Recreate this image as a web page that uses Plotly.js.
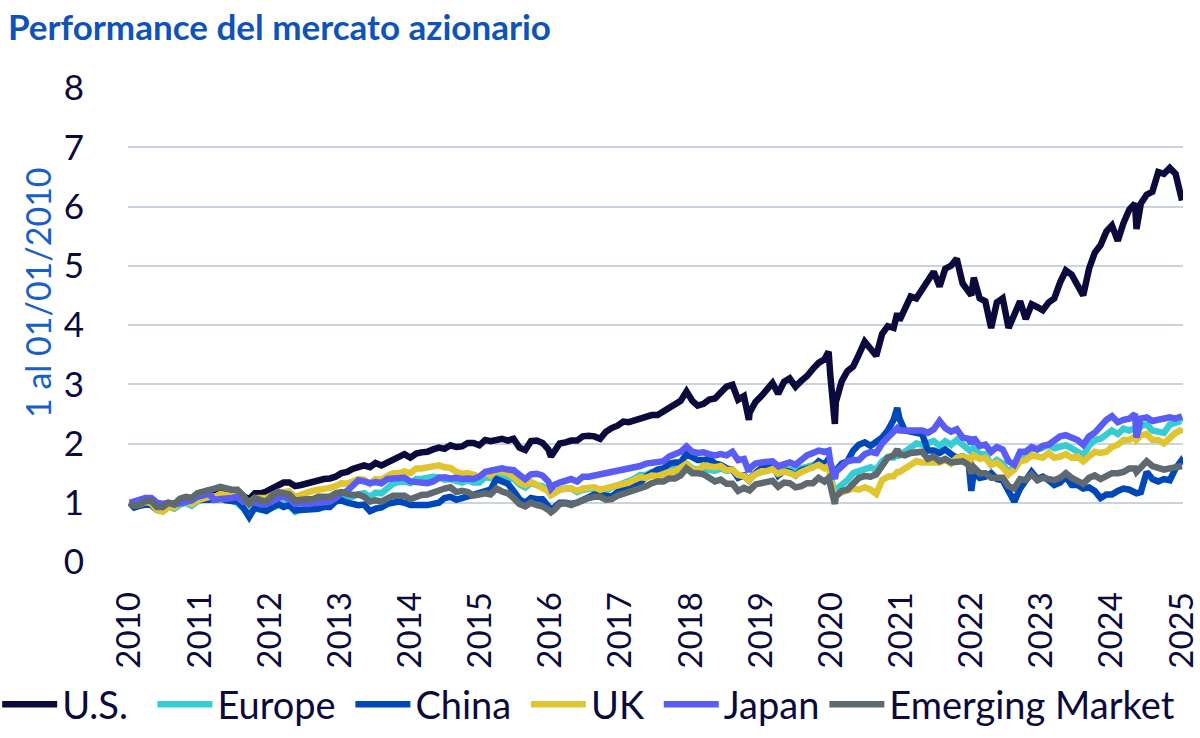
<!DOCTYPE html>
<html>
<head>
<meta charset="utf-8">
<script src="https://cdn.plot.ly/plotly-3.0.1.min.js"></script>
<style>
	body { margin: 0; background: #ffffff; }
	#chart { width: 1200px; height: 738px; }
</style>
</head>
<body>
<div id="chart"></div>
<script>
// month-end samples (day 28), plus a few dates where a sharp peak or trough sits
const dates = [
	"2010-01-04", "2010-01-28", "2010-02-28", "2010-03-28", "2010-04-28", "2010-05-28", "2010-06-28", "2010-07-28", "2010-08-28", "2010-09-28", "2010-10-28", "2010-11-28", "2010-12-28",
	"2011-01-28", "2011-02-28", "2011-03-28", "2011-04-28", "2011-05-28", "2011-06-28", "2011-07-28", "2011-08-28", "2011-09-28", "2011-10-28", "2011-11-28", "2011-12-28",
	"2012-01-28", "2012-02-28", "2012-03-28", "2012-04-28", "2012-05-28", "2012-06-28", "2012-07-28", "2012-08-28", "2012-09-28", "2012-10-28", "2012-11-28", "2012-12-28",
	"2013-01-28", "2013-02-28", "2013-03-28", "2013-04-28", "2013-05-28", "2013-06-28", "2013-07-28", "2013-08-28", "2013-09-28", "2013-10-28", "2013-11-28", "2013-12-28",
	"2014-01-28", "2014-02-28", "2014-03-28", "2014-04-28", "2014-05-28", "2014-06-28", "2014-07-28", "2014-08-28", "2014-09-28", "2014-10-28", "2014-11-28", "2014-12-28",
	"2015-01-28", "2015-02-28", "2015-03-28", "2015-04-28", "2015-05-28", "2015-06-28", "2015-07-28", "2015-08-28", "2015-09-28", "2015-10-28", "2015-11-28", "2015-12-28",
	"2016-01-28", "2016-02-11", "2016-02-28", "2016-03-28", "2016-04-28", "2016-05-28", "2016-06-28", "2016-07-28", "2016-08-28", "2016-09-28", "2016-10-28", "2016-11-28", "2016-12-28",
	"2017-01-28", "2017-02-28", "2017-03-28", "2017-04-28", "2017-05-28", "2017-06-28", "2017-07-28", "2017-08-28", "2017-09-28", "2017-10-28", "2017-11-28", "2017-12-28",
	"2018-01-28", "2018-02-28", "2018-03-28", "2018-04-28", "2018-05-28", "2018-06-28", "2018-07-28", "2018-08-28", "2018-09-28", "2018-10-28", "2018-11-28", "2018-12-24", "2018-12-28",
	"2019-01-28", "2019-02-28", "2019-03-28", "2019-04-28", "2019-05-28", "2019-06-28", "2019-07-28", "2019-08-28", "2019-09-28", "2019-10-28", "2019-11-28", "2019-12-28",
	"2020-01-28", "2020-02-19", "2020-02-28", "2020-03-23", "2020-03-28", "2020-04-28", "2020-05-28", "2020-06-28", "2020-07-28", "2020-08-28", "2020-09-28", "2020-10-28", "2020-11-28", "2020-12-28",
	"2021-01-28", "2021-02-16", "2021-02-28", "2021-03-28", "2021-04-28", "2021-05-28", "2021-06-28", "2021-07-28", "2021-08-28", "2021-09-28", "2021-10-28", "2021-11-28", "2021-12-28",
	"2022-01-28", "2022-02-28", "2022-03-15", "2022-03-28", "2022-04-28", "2022-05-28", "2022-06-28", "2022-07-28", "2022-08-28", "2022-09-28", "2022-10-28", "2022-11-28", "2022-12-28",
	"2023-01-28", "2023-02-28", "2023-03-28", "2023-04-28", "2023-05-28", "2023-06-28", "2023-07-28", "2023-08-28", "2023-09-28", "2023-10-28", "2023-11-28", "2023-12-28",
	"2024-01-28", "2024-02-28", "2024-03-28", "2024-04-28", "2024-05-28", "2024-06-28", "2024-07-28", "2024-08-05", "2024-08-28", "2024-09-28", "2024-10-28", "2024-11-28", "2024-12-28",
	"2025-01-28", "2025-02-28", "2025-03-28", "2025-04-03"
];

const usValues = [
	1.00, 0.97, 0.99, 1.05, 1.07, 0.98, 0.92, 0.98, 0.94, 1.03, 1.07, 1.07, 1.14,
	1.17, 1.21, 1.21, 1.24, 1.23, 1.21, 1.18, 1.11, 1.06, 1.16, 1.16, 1.19,
	1.25, 1.30, 1.34, 1.34, 1.28, 1.30, 1.33, 1.36, 1.39, 1.40, 1.41, 1.44,
	1.50, 1.52, 1.57, 1.59, 1.63, 1.60, 1.67, 1.63, 1.68, 1.74, 1.78, 1.82,
	1.76, 1.83, 1.85, 1.86, 1.90, 1.93, 1.91, 1.97, 1.94, 1.95, 2.01, 2.01,
	1.97, 2.06, 2.04, 2.06, 2.08, 2.05, 2.08, 1.93, 1.89, 2.04, 2.05, 2.01,
	1.90, 1.78, 1.88, 2.00, 2.02, 2.05, 2.05, 2.12, 2.13, 2.12, 2.08, 2.20, 2.26,
	2.30, 2.37, 2.36, 2.39, 2.42, 2.44, 2.48, 2.48, 2.54, 2.60, 2.68, 2.72,
	2.88, 2.72, 2.64, 2.67, 2.74, 2.76, 2.86, 2.96, 2.99, 2.74, 2.80, 2.40, 2.52,
	2.70, 2.80, 2.90, 3.02, 2.84, 3.04, 3.10, 2.96, 3.06, 3.14, 3.26, 3.36,
	3.42, 3.55, 3.15, 2.33, 2.70, 3.05, 3.22, 3.30, 3.50, 3.72, 3.60, 3.48, 3.85, 3.98,
	3.95, 4.20, 4.08, 4.25, 4.48, 4.45, 4.62, 4.75, 4.90, 4.65, 4.95, 5.00, 5.12,
	4.70, 4.55, 4.50, 4.80, 4.45, 4.40, 3.95, 4.38, 4.45, 3.95, 4.20, 4.40, 4.10,
	4.35, 4.30, 4.25, 4.38, 4.45, 4.72, 4.92, 4.85, 4.65, 4.50, 4.95, 5.22,
	5.35, 5.58, 5.68, 5.42, 5.72, 5.95, 6.05, 5.62, 6.05, 6.20, 6.25, 6.58, 6.55,
	6.65, 6.55, 6.15, 6.10
];

const europeValues = [
	1.00, 0.97, 0.97, 1.02, 0.98, 0.88, 0.86, 0.93, 0.90, 0.97, 1.00, 0.95, 1.02,
	1.06, 1.08, 1.05, 1.10, 1.06, 1.04, 1.00, 0.90, 0.82, 0.91, 0.88, 0.89,
	0.93, 0.97, 0.98, 0.95, 0.85, 0.90, 0.93, 0.97, 0.99, 1.01, 1.03, 1.06,
	1.10, 1.09, 1.10, 1.14, 1.16, 1.10, 1.17, 1.16, 1.24, 1.32, 1.35, 1.36,
	1.33, 1.40, 1.40, 1.42, 1.44, 1.43, 1.39, 1.40, 1.38, 1.34, 1.38, 1.34,
	1.34, 1.43, 1.42, 1.48, 1.45, 1.40, 1.41, 1.31, 1.26, 1.33, 1.30, 1.28,
	1.20, 1.13, 1.16, 1.22, 1.24, 1.24, 1.18, 1.22, 1.23, 1.24, 1.21, 1.20, 1.26,
	1.29, 1.31, 1.36, 1.41, 1.47, 1.47, 1.52, 1.52, 1.55, 1.56, 1.57, 1.59,
	1.66, 1.58, 1.56, 1.60, 1.55, 1.54, 1.58, 1.54, 1.55, 1.46, 1.46, 1.38, 1.40,
	1.48, 1.52, 1.54, 1.59, 1.50, 1.58, 1.56, 1.53, 1.58, 1.60, 1.62, 1.66,
	1.62, 1.70, 1.50, 1.08, 1.22, 1.30, 1.38, 1.50, 1.53, 1.58, 1.60, 1.55, 1.70, 1.77,
	1.76, 1.82, 1.80, 1.86, 1.94, 2.00, 1.98, 2.01, 2.04, 1.96, 2.04, 1.98, 2.06,
	1.98, 1.92, 1.86, 1.94, 1.82, 1.82, 1.64, 1.72, 1.66, 1.50, 1.62, 1.80, 1.82,
	1.92, 1.90, 1.93, 1.98, 1.92, 1.94, 1.97, 1.92, 1.86, 1.80, 1.96, 2.06,
	2.08, 2.14, 2.22, 2.16, 2.25, 2.22, 2.26, 2.16, 2.30, 2.32, 2.22, 2.20, 2.18,
	2.32, 2.36, 2.38, 2.36
];

const chinaValues = [
	1.00, 0.92, 0.95, 0.97, 0.96, 0.88, 0.86, 0.94, 0.95, 1.04, 1.08, 1.04, 1.05,
	1.04, 1.05, 1.06, 1.08, 1.04, 1.04, 1.02, 0.92, 0.76, 0.92, 0.88, 0.86,
	0.92, 0.98, 0.93, 0.96, 0.87, 0.88, 0.88, 0.88, 0.90, 0.93, 0.93, 1.02,
	1.04, 1.00, 0.98, 0.96, 0.97, 0.86, 0.90, 0.92, 0.98, 0.99, 1.02, 1.00,
	0.96, 0.96, 0.95, 0.96, 0.98, 1.00, 1.08, 1.10, 1.05, 1.08, 1.10, 1.14,
	1.15, 1.18, 1.22, 1.40, 1.36, 1.32, 1.20, 1.06, 1.00, 1.08, 1.06, 1.06,
	0.94, 0.90, 0.92, 1.00, 1.00, 0.98, 1.00, 1.04, 1.10, 1.14, 1.14, 1.12, 1.10,
	1.18, 1.22, 1.26, 1.28, 1.34, 1.44, 1.50, 1.56, 1.58, 1.66, 1.68, 1.68,
	1.82, 1.76, 1.72, 1.72, 1.74, 1.66, 1.64, 1.58, 1.56, 1.42, 1.46, 1.38, 1.40,
	1.50, 1.58, 1.60, 1.64, 1.46, 1.54, 1.52, 1.46, 1.55, 1.58, 1.60, 1.70,
	1.64, 1.74, 1.66, 1.42, 1.54, 1.66, 1.70, 1.88, 1.98, 2.02, 1.96, 2.04, 2.10, 2.22,
	2.40, 2.60, 2.42, 2.22, 2.20, 2.18, 2.16, 1.88, 1.88, 1.84, 1.90, 1.82, 1.76,
	1.78, 1.70, 1.20, 1.52, 1.42, 1.44, 1.50, 1.40, 1.38, 1.22, 1.02, 1.24, 1.36,
	1.52, 1.40, 1.44, 1.38, 1.30, 1.34, 1.44, 1.30, 1.30, 1.24, 1.26, 1.20,
	1.08, 1.14, 1.14, 1.20, 1.24, 1.22, 1.18, 1.16, 1.18, 1.52, 1.40, 1.36, 1.40,
	1.38, 1.58, 1.70, 1.66
];

const ukValues = [
	1.00, 0.96, 0.97, 1.02, 0.99, 0.88, 0.85, 0.93, 0.92, 0.99, 1.02, 0.98, 1.04,
	1.07, 1.10, 1.09, 1.15, 1.13, 1.11, 1.10, 1.02, 1.00, 1.08, 1.07, 1.08,
	1.13, 1.18, 1.18, 1.19, 1.10, 1.14, 1.17, 1.20, 1.22, 1.23, 1.25, 1.28,
	1.33, 1.32, 1.36, 1.40, 1.39, 1.32, 1.40, 1.39, 1.45, 1.50, 1.50, 1.53,
	1.50, 1.58, 1.58, 1.60, 1.62, 1.63, 1.60, 1.59, 1.52, 1.49, 1.50, 1.46,
	1.44, 1.52, 1.46, 1.54, 1.53, 1.50, 1.44, 1.34, 1.30, 1.35, 1.30, 1.25,
	1.19, 1.13, 1.16, 1.22, 1.24, 1.24, 1.20, 1.24, 1.25, 1.26, 1.22, 1.24, 1.28,
	1.30, 1.32, 1.34, 1.39, 1.43, 1.42, 1.46, 1.45, 1.50, 1.52, 1.53, 1.58,
	1.66, 1.56, 1.55, 1.63, 1.62, 1.60, 1.62, 1.55, 1.56, 1.47, 1.45, 1.38, 1.40,
	1.48, 1.53, 1.53, 1.57, 1.49, 1.53, 1.50, 1.46, 1.52, 1.56, 1.58, 1.64,
	1.58, 1.62, 1.44, 1.02, 1.14, 1.18, 1.20, 1.24, 1.22, 1.26, 1.22, 1.15, 1.38, 1.44,
	1.45, 1.52, 1.52, 1.58, 1.64, 1.70, 1.68, 1.68, 1.70, 1.68, 1.72, 1.66, 1.76,
	1.78, 1.76, 1.72, 1.80, 1.74, 1.76, 1.64, 1.68, 1.60, 1.48, 1.56, 1.70, 1.72,
	1.80, 1.78, 1.76, 1.84, 1.76, 1.78, 1.82, 1.76, 1.78, 1.70, 1.80, 1.86,
	1.84, 1.86, 1.94, 1.98, 2.06, 2.06, 2.12, 2.06, 2.14, 2.16, 2.06, 2.06, 2.00,
	2.10, 2.18, 2.22, 2.26
];

const japanValues = [
	1.00, 1.03, 1.05, 1.08, 1.08, 1.00, 0.98, 1.00, 0.97, 1.00, 1.02, 1.04, 1.10,
	1.12, 1.15, 1.05, 1.06, 1.05, 1.08, 1.10, 1.02, 1.00, 1.01, 0.97, 0.98,
	1.02, 1.08, 1.10, 1.06, 0.98, 1.00, 0.98, 0.99, 1.00, 0.99, 1.02, 1.08,
	1.16, 1.20, 1.30, 1.38, 1.36, 1.33, 1.35, 1.33, 1.40, 1.40, 1.42, 1.42,
	1.36, 1.35, 1.34, 1.33, 1.36, 1.42, 1.43, 1.41, 1.42, 1.40, 1.41, 1.40,
	1.44, 1.52, 1.54, 1.56, 1.58, 1.56, 1.55, 1.47, 1.40, 1.48, 1.49, 1.46,
	1.36, 1.24, 1.30, 1.34, 1.38, 1.40, 1.36, 1.44, 1.44, 1.46, 1.48, 1.48, 1.50,
	1.54, 1.56, 1.56, 1.58, 1.62, 1.66, 1.67, 1.67, 1.70, 1.78, 1.82, 1.86,
	1.95, 1.86, 1.84, 1.85, 1.82, 1.80, 1.82, 1.80, 1.86, 1.72, 1.74, 1.52, 1.58,
	1.66, 1.68, 1.68, 1.70, 1.62, 1.66, 1.68, 1.64, 1.72, 1.80, 1.84, 1.88,
	1.86, 1.88, 1.68, 1.40, 1.52, 1.60, 1.70, 1.72, 1.72, 1.82, 1.86, 1.84, 2.00, 2.10,
	2.18, 2.26, 2.22, 2.22, 2.20, 2.22, 2.22, 2.18, 2.24, 2.38, 2.26, 2.20, 2.24,
	2.10, 2.08, 2.00, 2.10, 1.96, 1.98, 1.86, 1.94, 1.90, 1.70, 1.64, 1.86, 1.86,
	1.94, 1.90, 1.96, 1.98, 2.04, 2.12, 2.14, 2.10, 2.06, 1.98, 2.12, 2.18,
	2.30, 2.40, 2.46, 2.36, 2.40, 2.42, 2.50, 2.10, 2.42, 2.44, 2.38, 2.40, 2.40,
	2.44, 2.42, 2.48, 2.46
];

const emergingValues = [
	1.00, 0.95, 0.97, 1.03, 1.03, 0.93, 0.93, 1.00, 0.98, 1.07, 1.10, 1.08, 1.16,
	1.18, 1.20, 1.24, 1.27, 1.24, 1.22, 1.22, 1.12, 0.98, 1.08, 1.04, 1.02,
	1.12, 1.18, 1.16, 1.14, 1.04, 1.06, 1.06, 1.06, 1.10, 1.10, 1.10, 1.16,
	1.18, 1.15, 1.13, 1.14, 1.10, 1.02, 1.04, 1.02, 1.08, 1.12, 1.12, 1.12,
	1.06, 1.10, 1.13, 1.14, 1.18, 1.22, 1.24, 1.26, 1.18, 1.20, 1.18, 1.12,
	1.13, 1.16, 1.14, 1.24, 1.19, 1.16, 1.08, 0.98, 0.94, 1.00, 0.96, 0.94,
	0.88, 0.84, 0.88, 0.98, 0.99, 0.96, 1.00, 1.05, 1.08, 1.10, 1.10, 1.05, 1.06,
	1.12, 1.15, 1.18, 1.21, 1.25, 1.28, 1.33, 1.36, 1.36, 1.41, 1.41, 1.46,
	1.58, 1.50, 1.50, 1.48, 1.42, 1.36, 1.39, 1.32, 1.32, 1.20, 1.25, 1.20, 1.21,
	1.31, 1.33, 1.34, 1.37, 1.27, 1.34, 1.33, 1.26, 1.28, 1.33, 1.33, 1.42,
	1.36, 1.42, 1.30, 0.98, 1.10, 1.20, 1.22, 1.32, 1.42, 1.45, 1.44, 1.48, 1.62, 1.76,
	1.80, 1.90, 1.82, 1.80, 1.84, 1.86, 1.86, 1.74, 1.78, 1.70, 1.74, 1.68, 1.70,
	1.70, 1.64, 1.50, 1.60, 1.50, 1.50, 1.42, 1.42, 1.42, 1.28, 1.24, 1.40, 1.38,
	1.48, 1.38, 1.42, 1.40, 1.38, 1.42, 1.50, 1.42, 1.38, 1.32, 1.42, 1.46,
	1.40, 1.46, 1.50, 1.50, 1.52, 1.58, 1.58, 1.52, 1.60, 1.70, 1.62, 1.58, 1.56,
	1.58, 1.60, 1.64, 1.62
];

const seriesNames = ["U.S.", "Europe", "China", "UK", "Japan", "Emerging Market"];
const seriesColors = ["#0b0a3c", "#35cdd3", "#0047ba", "#e0c530", "#5a5cf6", "#5f6970"];
const yearLabels = ["2010", "2011", "2012", "2013", "2014", "2015", "2016", "2017",
	"2018", "2019", "2020", "2021", "2022", "2023", "2024", "2025"];

// a little blank space after some legend entries, to spread the legend like the original
const legendPadding = [2, 1, 1, 1, 0, 0];

const FONT = "Lato, 'Open Sans', sans-serif";
const INK = "#0b0a3c";

function buildTraces() {
	let allValues = [usValues, europeValues, chinaValues, ukValues, japanValues, emergingValues];
	let traces = [];
	allValues.forEach((values, i) => {
		if (values.length != dates.length) {
			console.warn(seriesNames[i] + " has " + values.length + " values, dates has " + dates.length);
		}
		traces.push({
			x: dates,
			y: values,
			name: seriesNames[i] + "\u00a0".repeat(legendPadding[i]),
			type: "scatter",
			mode: "lines",
			line: { color: seriesColors[i], width: 6.5 }
		});
	});
	return traces;
}

// year labels are spread evenly over the data span, like the original category axis
function buildTicks() {
	let first = new Date(dates[0]).getTime();
	let last = new Date(dates[dates.length - 1]).getTime();
	let step = (last - first) / (yearLabels.length - 1);
	let tickvals = [];
	yearLabels.forEach((label, k) => {
		tickvals.push(new Date(first + k * step).toISOString().slice(0, 10));
	});
	return tickvals;
}

function plotChart() {
	let layout = {
		width: 1200,
		height: 738,
		margin: { l: 128, r: 17, t: 88, b: 176, autoexpand: false },
		paper_bgcolor: "#ffffff",
		plot_bgcolor: "#ffffff",
		font: { family: FONT, color: INK },
		showlegend: true,
		title: {
			text: "<b>Performance del mercato azionario</b>",
			font: { family: FONT, size: 35, color: "#0f52ba" },
			xref: "container",
			yref: "container",
			x: 8 / 1200,
			xanchor: "left",
			y: 1 - 28 / 738,
			yanchor: "middle"
		},
		xaxis: {
			type: "date",
			range: ["2009-12-26", "2025-04-08"],
			tickmode: "array",
			tickvals: buildTicks(),
			ticktext: yearLabels,
			tickangle: -90,
			tickfont: { family: FONT, size: 33, color: INK },
			ticks: "outside",
			ticklen: 16,
			tickcolor: "rgba(0,0,0,0)",
			showgrid: false,
			zeroline: false,
			showline: false
		},
		yaxis: {
			range: [0, 8],
			dtick: 1,
			tickfont: { family: FONT, size: 35, color: INK },
			ticks: "outside",
			ticklen: 30,
			tickcolor: "rgba(0,0,0,0)",
			ticklabelstandoff: 6,
			gridcolor: "#c9d4df",
			gridwidth: 2,
			zeroline: false,
			showline: false
		},
		legend: {
			orientation: "h",
			x: -0.124,
			xanchor: "left",
			y: -0.301,
			yanchor: "middle",
			itemwidth: 55,
			font: { family: FONT, size: 38, color: INK },
			bgcolor: "rgba(0,0,0,0)"
		},
		annotations: [{
			text: "1 al 01/01/2010",
			textangle: -90,
			xref: "paper",
			yref: "paper",
			x: -0.0863,
			y: 0.5696,
			xanchor: "center",
			yanchor: "middle",
			showarrow: false,
			font: { family: FONT, size: 34, color: "#1a5fc8" }
		}]
	};

	Plotly.newPlot("chart", buildTraces(), layout, { displayModeBar: false, staticPlot: true });
}

plotChart();
</script>
</body>
</html>
